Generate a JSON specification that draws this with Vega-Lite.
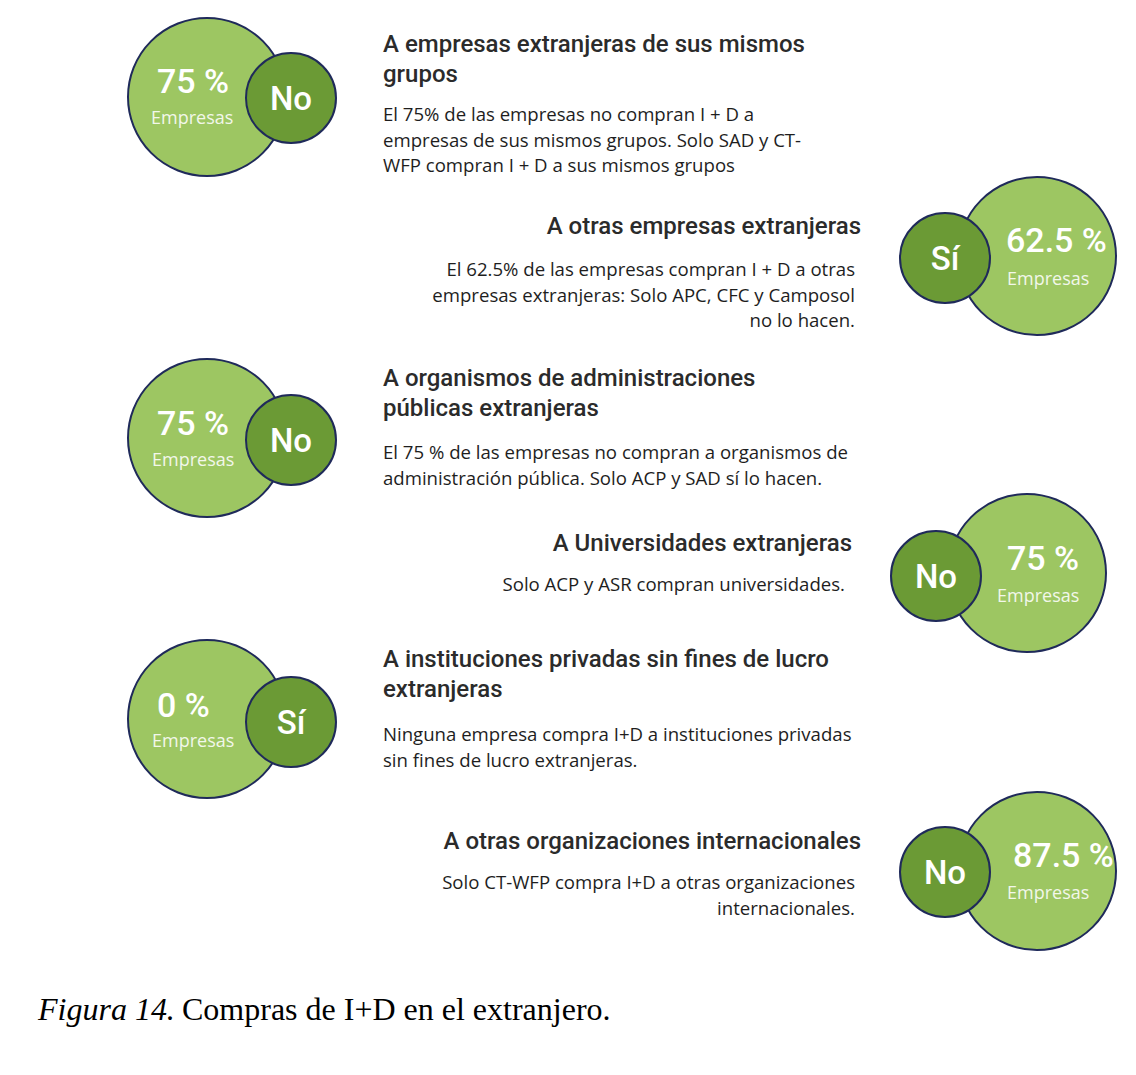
{
  "$schema": "https://vega.github.io/schema/vega-lite/v6.json",
  "width": 1136,
  "height": 1075,
  "autosize": {"type": "fit", "contains": "padding"},
  "padding": 0,
  "background": "#ffffff",
  "config": {"view": {"stroke": null}},
  "datasets": {
    "items": [
      {"item": 1, "side": "L", "pct": "75 %", "unit": "Empresas", "answer": "No",
       "title": ["A empresas extranjeras de sus mismos", "grupos"],
       "body": ["El 75% de las empresas no compran I + D a", "empresas de sus mismos grupos. Solo SAD y CT-", "WFP compran I + D a sus mismos grupos"]},
      {"item": 2, "side": "R", "pct": "62.5 %", "unit": "Empresas", "answer": "Sí",
       "title": ["A otras empresas extranjeras"],
       "body": ["El 62.5% de las empresas compran I + D a otras", "empresas extranjeras: Solo APC, CFC y Camposol", "no lo hacen."]},
      {"item": 3, "side": "L", "pct": "75 %", "unit": "Empresas", "answer": "No",
       "title": ["A organismos de administraciones", "públicas extranjeras"],
       "body": ["El 75 % de las empresas no compran a organismos de", "administración pública. Solo ACP y SAD sí lo hacen."]},
      {"item": 4, "side": "R", "pct": "75 %", "unit": "Empresas", "answer": "No",
       "title": ["A Universidades extranjeras"],
       "body": ["Solo ACP y ASR compran universidades."]},
      {"item": 5, "side": "L", "pct": "0 %", "unit": "Empresas", "answer": "Sí",
       "title": ["A instituciones privadas sin fines de lucro", "extranjeras"],
       "body": ["Ninguna empresa compra I+D a instituciones privadas", "sin fines de lucro extranjeras."]},
      {"item": 6, "side": "R", "pct": "87.5 %", "unit": "Empresas", "answer": "No",
       "title": ["A otras organizaciones internacionales"],
       "body": ["Solo CT-WFP compra I+D a otras organizaciones", "internacionales."]}
    ],
    "caption": [
      {"part": "italic", "text": "Figura 14"},
      {"part": "regular", "text": ". Compras de I+D en el extranjero."}
    ]
  },
  "resolve": {"scale": {"x": "independent", "y": "independent"}},
  "layer": [
    {
      "data": {"name": "items"},
      "mark": {"type": "circle", "fill": "#9dc662", "stroke": "#1f2a5a", "strokeWidth": 2, "opacity": 1, "size": 24964},
      "encoding": {
        "x": {"field": "item", "type": "quantitative", "axis": null,
              "scale": {"domain": [1, 2, 3, 4, 5, 6], "range": [207, 1037, 207, 1027, 207, 1037], "zero": false, "nice": false}},
        "y": {"field": "item", "type": "quantitative", "axis": null,
              "scale": {"domain": [1, 2, 3, 4, 5, 6], "range": [97, 256, 438, 573, 719, 871], "zero": false, "nice": false}}
      }
    },
    {
      "data": {"name": "items"},
      "mark": {"type": "circle", "fill": "#6b9a35", "stroke": "#1f2a5a", "strokeWidth": 2, "opacity": 1, "size": 8100},
      "encoding": {
        "x": {"field": "item", "type": "quantitative", "axis": null,
              "scale": {"domain": [1, 2, 3, 4, 5, 6], "range": [291, 945, 291, 936, 291, 945], "zero": false, "nice": false}},
        "y": {"field": "item", "type": "quantitative", "axis": null,
              "scale": {"domain": [1, 2, 3, 4, 5, 6], "range": [98, 258, 440, 576, 722, 872], "zero": false, "nice": false}}
      }
    },
    {
      "data": {"name": "items"},
      "mark": {"type": "text", "align": "left", "baseline": "alphabetic", "font": "Roboto", "fontSize": 34, "fontWeight": 500, "fill": "#ffffff"},
      "encoding": {
        "text": {"field": "pct", "type": "nominal"},
        "x": {"field": "item", "type": "quantitative", "axis": null,
              "scale": {"domain": [1, 2, 3, 4, 5, 6], "range": [157, 1006, 157, 1007, 157, 1013], "zero": false, "nice": false}},
        "y": {"field": "item", "type": "quantitative", "axis": null,
              "scale": {"domain": [1, 2, 3, 4, 5, 6], "range": [93, 252, 435, 570, 717, 867], "zero": false, "nice": false}}
      }
    },
    {
      "data": {"name": "items"},
      "mark": {"type": "text", "align": "left", "baseline": "alphabetic", "font": "Open Sans", "fontSize": 18, "fill": "#f2f7ea"},
      "encoding": {
        "text": {"field": "unit", "type": "nominal"},
        "x": {"field": "item", "type": "quantitative", "axis": null,
              "scale": {"domain": [1, 2, 3, 4, 5, 6], "range": [151, 1007, 152, 997, 152, 1007], "zero": false, "nice": false}},
        "y": {"field": "item", "type": "quantitative", "axis": null,
              "scale": {"domain": [1, 2, 3, 4, 5, 6], "range": [124, 285, 466, 602, 747, 899], "zero": false, "nice": false}}
      }
    },
    {
      "data": {"name": "items"},
      "mark": {"type": "text", "align": "center", "baseline": "alphabetic", "font": "Roboto", "fontSize": 33, "fontWeight": 500, "fill": "#ffffff"},
      "encoding": {
        "text": {"field": "answer", "type": "nominal"},
        "x": {"field": "item", "type": "quantitative", "axis": null,
              "scale": {"domain": [1, 2, 3, 4, 5, 6], "range": [291, 945, 291, 936, 291, 945], "zero": false, "nice": false}},
        "y": {"field": "item", "type": "quantitative", "axis": null,
              "scale": {"domain": [1, 2, 3, 4, 5, 6], "range": [110, 270, 452, 588, 734, 884], "zero": false, "nice": false}}
      }
    },
    {
      "data": {"name": "items"},
      "transform": [{"filter": "datum.side === 'L'"}],
      "mark": {"type": "text", "align": "left", "baseline": "alphabetic", "font": "Roboto", "fontSize": 24, "fontWeight": 500, "lineHeight": 30, "fill": "#2b2b2b"},
      "encoding": {
        "text": {"field": "title", "type": "nominal"},
        "x": {"field": "item", "type": "quantitative", "axis": null,
              "scale": {"domain": [1, 2, 3, 4, 5, 6], "range": [383, 861, 383, 852, 383, 861], "zero": false, "nice": false}},
        "y": {"field": "item", "type": "quantitative", "axis": null,
              "scale": {"domain": [1, 2, 3, 4, 5, 6], "range": [52, 234, 386, 551, 667, 849], "zero": false, "nice": false}}
      }
    },
    {
      "data": {"name": "items"},
      "transform": [{"filter": "datum.side === 'R'"}],
      "mark": {"type": "text", "align": "right", "baseline": "alphabetic", "font": "Roboto", "fontSize": 24, "fontWeight": 500, "lineHeight": 30, "fill": "#2b2b2b"},
      "encoding": {
        "text": {"field": "title", "type": "nominal"},
        "x": {"field": "item", "type": "quantitative", "axis": null,
              "scale": {"domain": [1, 2, 3, 4, 5, 6], "range": [383, 861, 383, 852, 383, 861], "zero": false, "nice": false}},
        "y": {"field": "item", "type": "quantitative", "axis": null,
              "scale": {"domain": [1, 2, 3, 4, 5, 6], "range": [52, 234, 386, 551, 667, 849], "zero": false, "nice": false}}
      }
    },
    {
      "data": {"name": "items"},
      "transform": [{"filter": "datum.side === 'L'"}],
      "mark": {"type": "text", "align": "left", "baseline": "alphabetic", "font": "Open Sans", "fontSize": 18.6, "lineHeight": 25.5, "fill": "#1e1e1e"},
      "encoding": {
        "text": {"field": "body", "type": "nominal"},
        "x": {"field": "item", "type": "quantitative", "axis": null,
              "scale": {"domain": [1, 2, 3, 4, 5, 6], "range": [383, 855, 383, 845, 383, 855], "zero": false, "nice": false}},
        "y": {"field": "item", "type": "quantitative", "axis": null,
              "scale": {"domain": [1, 2, 3, 4, 5, 6], "range": [121, 276, 459, 591, 741, 889], "zero": false, "nice": false}}
      }
    },
    {
      "data": {"name": "items"},
      "transform": [{"filter": "datum.side === 'R'"}],
      "mark": {"type": "text", "align": "right", "baseline": "alphabetic", "font": "Open Sans", "fontSize": 18.6, "lineHeight": 25.5, "fill": "#1e1e1e"},
      "encoding": {
        "text": {"field": "body", "type": "nominal"},
        "x": {"field": "item", "type": "quantitative", "axis": null,
              "scale": {"domain": [1, 2, 3, 4, 5, 6], "range": [383, 855, 383, 845, 383, 855], "zero": false, "nice": false}},
        "y": {"field": "item", "type": "quantitative", "axis": null,
              "scale": {"domain": [1, 2, 3, 4, 5, 6], "range": [121, 276, 459, 591, 741, 889], "zero": false, "nice": false}}
      }
    },
    {
      "data": {"name": "caption"},
      "transform": [{"filter": "datum.part === 'italic'"}],
      "mark": {"type": "text", "align": "left", "baseline": "alphabetic", "font": "Liberation Serif, Times New Roman, serif", "fontSize": 32, "fontStyle": "italic", "fill": "#000000"},
      "encoding": {
        "text": {"field": "text", "type": "nominal"},
        "x": {"field": "part", "type": "nominal", "axis": null,
              "scale": {"type": "point", "domain": ["italic", "regular"], "range": [38, 166], "padding": 0}},
        "y": {"value": 1020}
      }
    },
    {
      "data": {"name": "caption"},
      "transform": [{"filter": "datum.part === 'regular'"}],
      "mark": {"type": "text", "align": "left", "baseline": "alphabetic", "font": "Liberation Serif, Times New Roman, serif", "fontSize": 32, "fill": "#000000"},
      "encoding": {
        "text": {"field": "text", "type": "nominal"},
        "x": {"field": "part", "type": "nominal", "axis": null,
              "scale": {"type": "point", "domain": ["italic", "regular"], "range": [38, 166], "padding": 0}},
        "y": {"value": 1020}
      }
    }
  ]
}
